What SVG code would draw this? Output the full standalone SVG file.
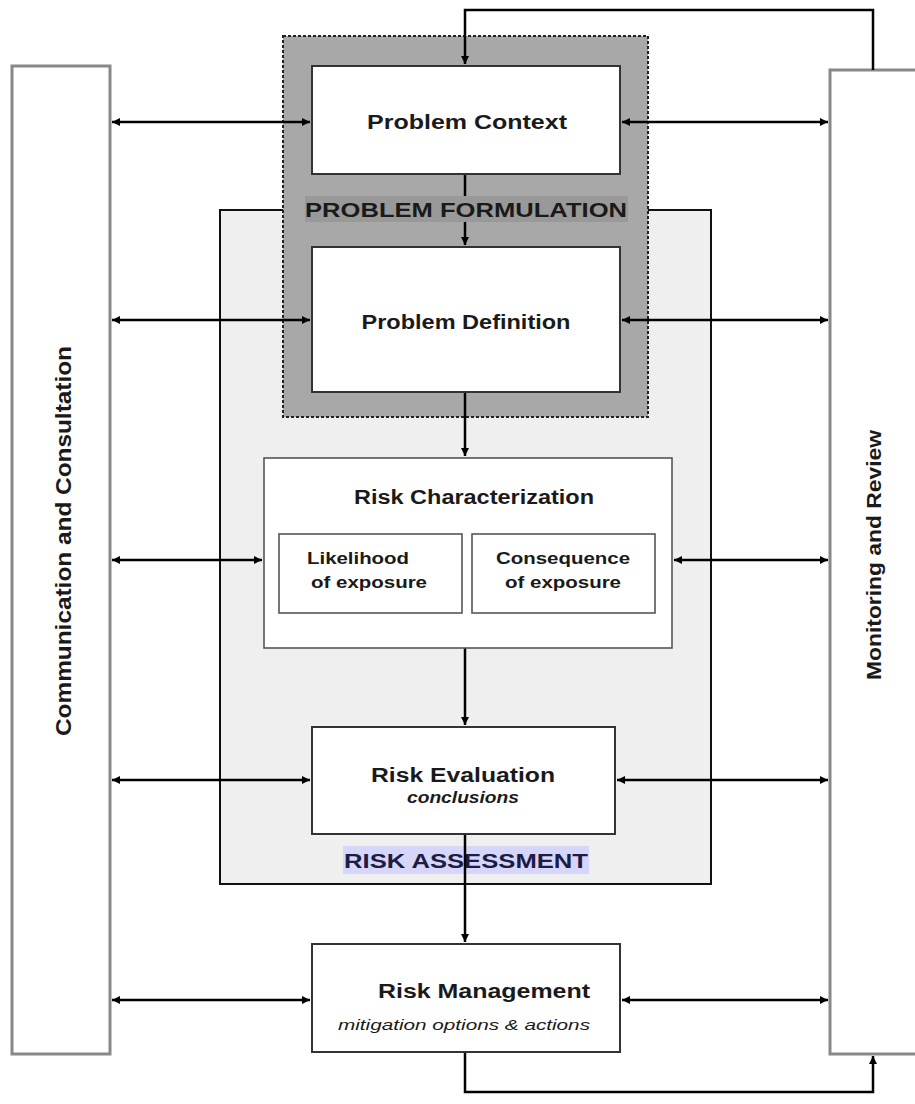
<svg xmlns="http://www.w3.org/2000/svg" width="915" height="1104" viewBox="0 0 915 1104">
<style>
.box{fill:#fff;stroke:#333;stroke-width:2}
.thin{fill:#fff;stroke:#555;stroke-width:1.6}
.side{fill:#fff;stroke:#888;stroke-width:3}
.con{fill:none;stroke:#000;stroke-width:2.5}
.t{font-family:"Liberation Sans",Arial,sans-serif;font-weight:bold;text-anchor:middle;fill:#1a1a1a}
.n{font-family:"Liberation Sans Narrow","Liberation Sans",Arial,sans-serif;font-weight:bold;text-anchor:middle;fill:#1a1a1a}
</style>
<defs>
<marker id="ah" viewBox="0 0 10 10" refX="10" refY="5" markerWidth="9" markerHeight="8" markerUnits="userSpaceOnUse" orient="auto-start-reverse">
<path d="M0,0 L10,5 L0,10 z" fill="#000"/>
</marker>
</defs>
<rect width="915" height="1104" fill="#fff"/>
<g id="risk-assessment">
<rect x="220" y="210" width="491" height="674" fill="#efefef" stroke="#111" stroke-width="2"/>
</g>
<g id="problem-formulation">
<rect x="283" y="36" width="365" height="381" fill="#a8a8a8" stroke="#222" stroke-width="2" stroke-dasharray="3,2"/>
</g>
<g id="communication">
<rect class="side" x="12" y="66" width="98" height="988"/>
<text class="t" transform="translate(71,541) rotate(-90)" font-size="22" textLength="390" lengthAdjust="spacingAndGlyphs">Communication and Consultation</text>
</g>
<g id="monitoring">
<rect class="side" x="830" y="70" width="95" height="984"/>
<text class="t" transform="translate(881,555) rotate(-90)" font-size="20" textLength="250" lengthAdjust="spacingAndGlyphs">Monitoring and Review</text>
</g>
<g id="risk-assessment-label">
<rect x="343" y="846" width="246" height="28" fill="#d6d6fa"/>
<text class="t" x="466" y="868" font-size="20" style="fill:#1c1c44" textLength="244" lengthAdjust="spacingAndGlyphs">RISK ASSESSMENT</text>
</g>
<g id="connectors">
<path class="con" d="M873,70 V10 H465 V64" marker-end="url(#ah)"/>
<path class="con" d="M465,1052 V1092 H873 V1056" marker-end="url(#ah)"/>
<path class="con" d="M465,174 V245" marker-end="url(#ah)"/>
<path class="con" d="M465,392 V456" marker-end="url(#ah)"/>
<path class="con" d="M465,648 V725" marker-end="url(#ah)"/>
<path class="con" d="M465,834 V942" marker-end="url(#ah)"/>
<path class="con" d="M112,122 H310" marker-start="url(#ah)" marker-end="url(#ah)"/>
<path class="con" d="M112,320 H310" marker-start="url(#ah)" marker-end="url(#ah)"/>
<path class="con" d="M112,560 H262" marker-start="url(#ah)" marker-end="url(#ah)"/>
<path class="con" d="M112,780 H310" marker-start="url(#ah)" marker-end="url(#ah)"/>
<path class="con" d="M112,1000 H310" marker-start="url(#ah)" marker-end="url(#ah)"/>
<path class="con" d="M622,122 H828" marker-start="url(#ah)" marker-end="url(#ah)"/>
<path class="con" d="M622,320 H828" marker-start="url(#ah)" marker-end="url(#ah)"/>
<path class="con" d="M674,560 H828" marker-start="url(#ah)" marker-end="url(#ah)"/>
<path class="con" d="M617,780 H828" marker-start="url(#ah)" marker-end="url(#ah)"/>
<path class="con" d="M622,1000 H828" marker-start="url(#ah)" marker-end="url(#ah)"/>
</g>
<g id="problem-formulation-label">
<rect x="305" y="196" width="323" height="26" fill="#999"/>
<text class="t" x="466" y="217" font-size="20" textLength="322" lengthAdjust="spacingAndGlyphs">PROBLEM FORMULATION</text>
</g>
<g id="problem-context">
<rect class="box" x="312" y="66" width="308" height="108"/>
<text class="t" x="467" y="129" font-size="20" textLength="200" lengthAdjust="spacingAndGlyphs">Problem Context</text>
</g>
<g id="problem-definition">
<rect class="box" x="312" y="247" width="308" height="145"/>
<text class="t" x="466" y="329" font-size="20" textLength="209" lengthAdjust="spacingAndGlyphs">Problem Definition</text>
</g>
<g id="risk-characterization">
<rect class="thin" x="264" y="458" width="408" height="190"/>
<text class="t" x="474" y="504" font-size="20" textLength="240" lengthAdjust="spacingAndGlyphs">Risk Characterization</text>
</g>
<g id="likelihood">
<rect class="thin" x="279" y="534" width="183" height="79"/>
<text class="t" x="358" y="564" font-size="16" textLength="102" lengthAdjust="spacingAndGlyphs">Likelihood</text>
<text class="t" x="369" y="588" font-size="16" textLength="116" lengthAdjust="spacingAndGlyphs">of exposure</text>
</g>
<g id="consequence">
<rect class="thin" x="472" y="534" width="183" height="79"/>
<text class="t" x="563" y="564" font-size="16" textLength="134" lengthAdjust="spacingAndGlyphs">Consequence</text>
<text class="t" x="563" y="588" font-size="16" textLength="116" lengthAdjust="spacingAndGlyphs">of exposure</text>
</g>
<g id="risk-evaluation">
<rect class="box" x="312" y="727" width="303" height="107"/>
<text class="t" x="463" y="782" font-size="20" textLength="184" lengthAdjust="spacingAndGlyphs">Risk Evaluation</text>
<text class="t" x="463" y="803" font-size="16" font-style="italic" textLength="112" lengthAdjust="spacingAndGlyphs">conclusions</text>
</g>
<g id="risk-management">
<rect class="box" x="312" y="944" width="308" height="108"/>
<text class="n" x="484" y="998" font-size="20" textLength="212" lengthAdjust="spacingAndGlyphs">Risk Management</text>
<text class="n" x="464" y="1030" font-size="15" font-style="italic" style="font-weight:normal" textLength="252" lengthAdjust="spacingAndGlyphs">mitigation options &amp; actions</text>
</g>
</svg>
